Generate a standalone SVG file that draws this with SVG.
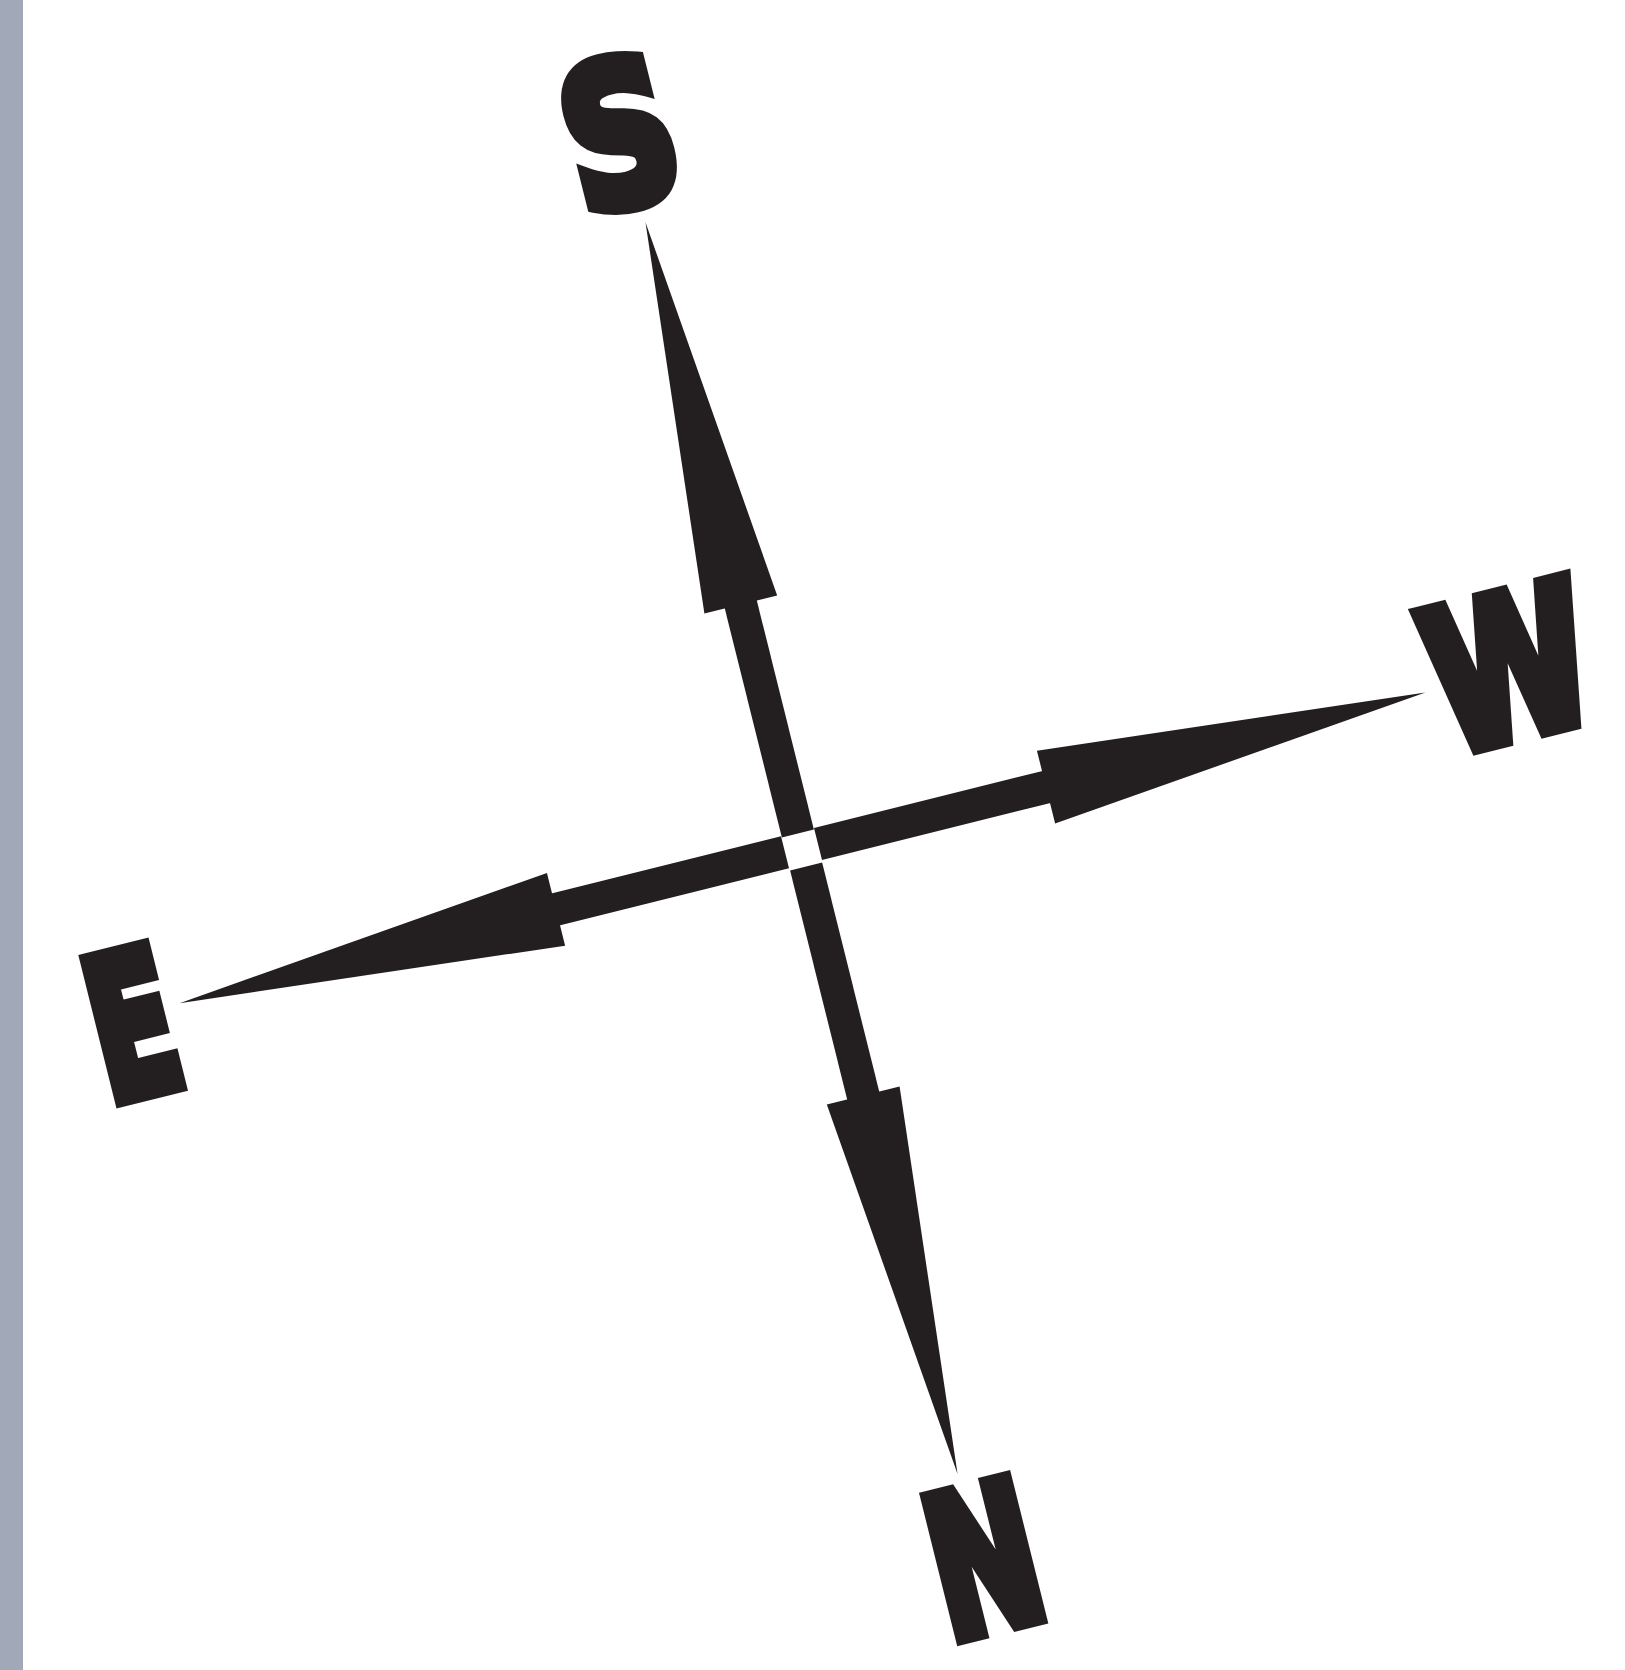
<svg xmlns="http://www.w3.org/2000/svg" width="1625" height="1670" viewBox="0 0 1625 1670">
  <style>
    .ink { fill: #231f20; }
    .lbl { fill: #231f20; stroke: #231f20; stroke-width: 16; stroke-linejoin: miter; font-family: "DejaVu Sans", "Liberation Sans", sans-serif; font-weight: bold; font-size: 195px; text-anchor: middle; }
  </style>
  <rect x="0" y="0" width="1625" height="1670" fill="#ffffff"/>
  <rect x="0" y="0" width="23" height="1670" fill="#a1a9b9"/>
  <g transform="translate(802,850) rotate(-14)">
    <g id="connectors">
      <g id="arrow-s" class="ink">
        <rect x="-16.5" y="-262" width="33" height="245"/>
        <polygon points="0,-647 37.5,-253 -37.5,-253"/>
      </g>
      <g id="arrow-n" class="ink">
        <rect x="-16.5" y="17" width="33" height="245"/>
        <polygon points="0,643 37.5,253 -37.5,253"/>
      </g>
      <g id="arrow-w" class="ink">
        <rect x="17" y="-18.5" width="245" height="33"/>
        <polygon points="643,-2 252,-39.5 252,35.5"/>
      </g>
      <g id="arrow-e" class="ink">
        <rect x="-262" y="-18.5" width="245" height="33"/>
        <polygon points="-641,-2 -253,-39.5 -253,35.5"/>
      </g>
    </g>
    <g id="node-s">
      <text class="lbl" transform="translate(-4,-748) scale(0.78,1)" x="0" y="79">S</text>
    </g>
    <g id="node-w">
      <text class="lbl" transform="translate(730,-16) scale(0.75,1)" x="0" y="79">W</text>
    </g>
    <g id="node-e">
      <text class="lbl" transform="translate(-692,-2) scale(0.63,1)" x="0" y="79">E</text>
    </g>
    <g id="node-n">
      <text class="lbl" transform="translate(5,723) scale(0.655,1)" x="0" y="79">N</text>
    </g>
  </g>
</svg>
